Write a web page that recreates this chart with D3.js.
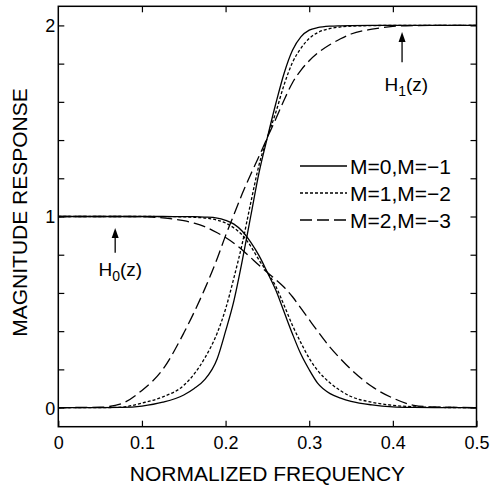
<!DOCTYPE html>
<html>
<head>
<meta charset="utf-8">
<script src="https://cdn.jsdelivr.net/npm/d3@7"></script>
<style>
body { margin: 0; background: #fff; }
svg { display: block; font-family: "Liberation Sans", Arial, Helvetica, sans-serif; }
</style>
</head>
<body>
<div id="chart"></div>
<script>
'use strict';

// normalized frequency sample points
var freq = [0, 0.05, 0.075, 0.1, 0.125, 0.15, 0.1625, 0.175, 0.19, 0.2, 0.21, 0.22, 0.23, 0.24,
            0.25, 0.26, 0.27, 0.28, 0.29, 0.3, 0.31, 0.325, 0.3375, 0.35, 0.375, 0.4, 0.425, 0.45, 0.5];

// H0(z), lowpass
var h0M0 = [1, 1, 1, 1, 1, 0.999, 0.999, 0.997, 0.992, 0.98, 0.96, 0.923, 0.866, 0.795,
            0.707, 0.615, 0.5, 0.385, 0.28, 0.198, 0.128, 0.073, 0.05, 0.033, 0.014, 0.004, 0.001, 0, 0];
var h0M1 = [1, 1, 1, 1, 0.9996, 0.998, 0.996, 0.992, 0.981, 0.966, 0.94, 0.903, 0.845, 0.772,
            0.707, 0.635, 0.535, 0.43, 0.34, 0.258, 0.195, 0.129, 0.088, 0.058, 0.028, 0.012, 0.004, 0.001, 0];
var h0M2 = [1, 1, 1, 0.999, 0.993, 0.978, 0.965, 0.947, 0.915, 0.89, 0.86, 0.825, 0.785, 0.745,
            0.707, 0.67, 0.63, 0.58, 0.52, 0.46, 0.4, 0.315, 0.255, 0.2, 0.11, 0.05, 0.012, 0.003, 0];

// H1(z), highpass
var h1M0 = [0, 0, 0.001, 0.008, 0.028, 0.066, 0.1, 0.146, 0.256, 0.4, 0.56, 0.77, 1.0, 1.23,
            1.414, 1.59, 1.75, 1.87, 1.94, 1.975, 1.988, 1.996, 1.998, 1.999, 2, 2, 2, 2, 2];
var h1M1 = [0, 0, 0.002, 0.024, 0.056, 0.116, 0.176, 0.258, 0.39, 0.516, 0.68, 0.86, 1.07, 1.27,
            1.414, 1.544, 1.69, 1.806, 1.88, 1.932, 1.962, 1.984, 1.992, 1.996, 1.999, 2, 2, 2, 2];
var h1M2 = [0, 0.002, 0.02, 0.09, 0.2, 0.39, 0.5, 0.62, 0.78, 0.9, 1.01, 1.12, 1.22, 1.315,
            1.414, 1.51, 1.61, 1.70, 1.765, 1.815, 1.855, 1.9, 1.93, 1.955, 1.98, 1.995, 1.999, 2, 2];

var legendLabels = ["M=0,M=\u22121", "M=1,M=\u22122", "M=2,M=\u22123"];
var xTicks = [0, 0.1, 0.2, 0.3, 0.4, 0.5];
var yTicks = [0, 0.2, 0.4, 0.6, 0.8, 1, 1.2, 1.4, 1.6, 1.8, 2];
var yLabels = [0, 1, 2];

var cw = 492, ch = 489;
var margins = {top: 6.3, left: 58.3, right: 15.5, bottom: 62.3};
var w = cw - margins.left - margins.right;
var h = ch - margins.top - margins.bottom;
var dashes = [null, "3,2", "12,5"];

var xScale = d3.scaleLinear().domain([0, 0.5]).range([0, w]);
var yScale = d3.scaleLinear().domain([-0.1, 2.1]).range([h, 0]);

var svg = d3.select("#chart").append("svg")
    .attr("width", cw)
    .attr("height", ch);

var chart = svg.append("g")
    .attr("transform", "translate(" + margins.left + "," + margins.top + ")");

// axes, ticks point inward
var xAxis = chart.append("g")
    .attr("transform", "translate(0," + h + ")")
    .call(d3.axisBottom(xScale).tickValues(xTicks).tickSize(-6).tickPadding(10)
        .tickFormat(function(d) { return d === 0 ? "0" : d3.format(".1f")(d); }));
var xTop = chart.append("g")
    .call(d3.axisTop(xScale).tickValues(xTicks.slice(1, -1)).tickSize(-6).tickFormat(""));
var yAxis = chart.append("g")
    .call(d3.axisLeft(yScale).tickValues(yTicks).tickSize(-6).tickPadding(3)
        .tickFormat(function(d) { return yLabels.indexOf(d) >= 0 ? d : ""; }));
var yRight = chart.append("g")
    .attr("transform", "translate(" + w + ",0)")
    .call(d3.axisRight(yScale).tickValues(yTicks).tickSize(-6).tickFormat(""));

[xAxis, xTop, yAxis, yRight].forEach(function(a) {
    a.select(".domain").remove();
    a.selectAll(".tick line").attr("stroke", "#000").attr("stroke-width", 1.2);
    a.selectAll("text").attr("fill", "#000").attr("font-size", 18)
        .attr("font-family", "\"Liberation Sans\", Arial, sans-serif");
});
yAxis.selectAll("text").attr("dy", "0.36em");

// curves
var line = d3.line()
    .x(function(d) { return xScale(d[0]); })
    .y(function(d) { return yScale(d[1]); })
    .curve(d3.curveMonotoneX);

var series = [
    {vals: h0M0, k: 0}, {vals: h0M1, k: 1}, {vals: h0M2, k: 2},
    {vals: h1M0, k: 0}, {vals: h1M1, k: 1}, {vals: h1M2, k: 2}
];
series.forEach(function(s) {
    chart.append("path")
        .datum(freq.map(function(f, i) { return [f, s.vals[i]]; }))
        .attr("d", line)
        .attr("fill", "none")
        .attr("stroke", "#000")
        .attr("stroke-width", 1.3)
        .attr("stroke-dasharray", dashes[s.k]);
});

// frame
chart.append("rect")
    .attr("width", w)
    .attr("height", h)
    .attr("fill", "none")
    .attr("stroke", "#000")
    .attr("stroke-width", 1.5);

// legend
var legend = chart.selectAll(".legend")
    .data(legendLabels)
    .enter().append("g")
    .attr("class", "legend")
    .attr("transform", function(d, i) { return "translate(" + (300 - margins.left) + "," + (166 + i * 27 - margins.top) + ")"; });
legend.append("line")
    .attr("x1", 0).attr("x2", 47)
    .attr("stroke", "#000").attr("stroke-width", 1.3)
    .attr("stroke-dasharray", function(d, i) { return dashes[i]; });
legend.append("text")
    .attr("x", 50).attr("dy", "0.36em")
    .attr("font-size", 21)
    .text(function(d) { return d; });

// annotations
function arrow(fx, v0, v1) {
    var x = xScale(fx), yTail = yScale(v0), yTip = yScale(v1);
    chart.append("line")
        .attr("x1", x).attr("x2", x).attr("y1", yTail).attr("y2", yTip + 8)
        .attr("stroke", "#000").attr("stroke-width", 1.3);
    chart.append("path")
        .attr("d", "M" + x + "," + yTip + "L" + (x - 3.5) + "," + (yTip + 10) + "L" + (x + 3.5) + "," + (yTip + 10) + "Z")
        .attr("fill", "#000");
}
function hLabel(fx, v, sub) {
    var t = chart.append("text")
        .attr("x", xScale(fx)).attr("y", yScale(v))
        .attr("font-size", 19);
    t.append("tspan").text("H");
    t.append("tspan").attr("dy", 5).attr("font-size", 14).text(sub);
    t.append("tspan").attr("dy", -5).text("(z)");
}
arrow(0.068, 0.81, 0.94);
hLabel(0.048, 0.686, "0");
arrow(0.411, 1.807, 1.965);
hLabel(0.39, 1.656, "1");

// axis titles
svg.append("text")
    .attr("x", margins.left + w / 2)
    .attr("y", 481)
    .attr("text-anchor", "middle")
    .attr("font-size", 21)
    .text("NORMALIZED FREQUENCY");
svg.append("text")
    .attr("transform", "translate(26.5," + (margins.top + h / 2 - 4) + ") rotate(-90)")
    .attr("text-anchor", "middle")
    .attr("font-size", 21)
    .text("MAGNITUDE RESPONSE");
</script>
</body>
</html>
